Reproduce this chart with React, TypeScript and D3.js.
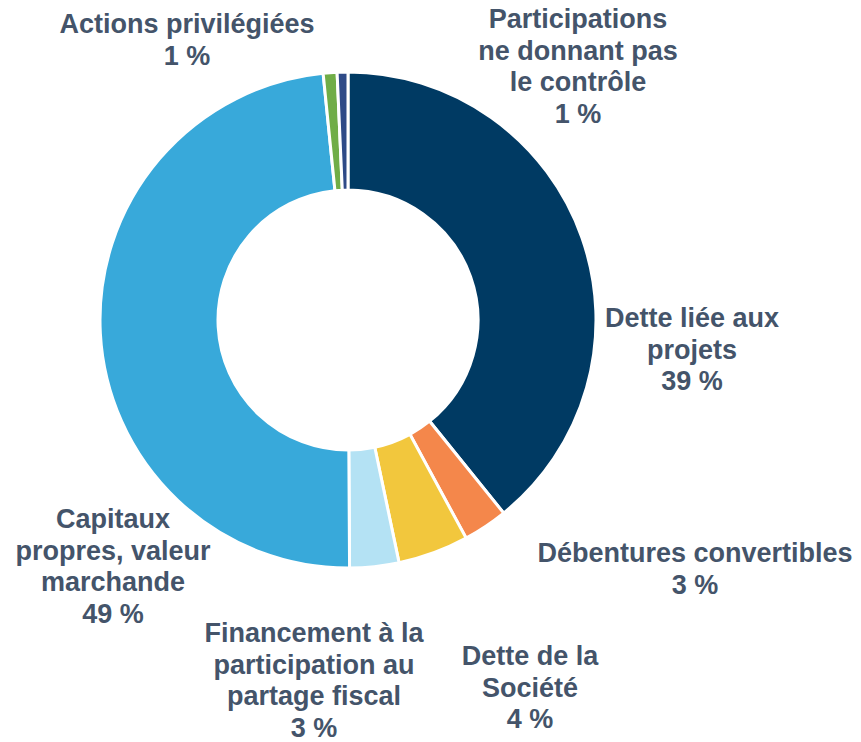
import React, { useRef, useEffect } from "react";
import * as d3 from "d3";

// slices, clockwise from 12 o'clock
const categories = [
  "Dette liée aux projets",
  "Débentures convertibles",
  "Dette de la Société",
  "Financement à la participation au partage fiscal",
  "Capitaux propres, valeur marchande",
  "Actions privilégiées",
  "Participations ne donnant pas le contrôle",
];
const values = [39.2, 2.9, 4.6, 3.2, 48.5, 0.9, 0.7];
const pctLabels = ["39 %", "3 %", "4 %", "3 %", "49 %", "1 %", "1 %"];
const colors = ["#003A63", "#F4874B", "#F2C73D", "#B4E2F4", "#38A9DA", "#70AD47", "#2E4A87"];

// label line breaks as in the original
const labelLines = [
  ["Dette liée aux", "projets"],
  ["Débentures convertibles"],
  ["Dette de la", "Société"],
  ["Financement à la", "participation au", "partage fiscal"],
  ["Capitaux", "propres, valeur", "marchande"],
  ["Actions privilégiées"],
  ["Participations", "ne donnant pas", "le contrôle"],
];

const App = () => {
  const ref = useRef<SVGSVGElement>(null);

  useEffect(() => {
    const svg = d3.select(ref.current);
    svg.selectAll("*").remove();

    const width = 861;
    const height = 742;
    const cx = 348;
    const cy = 320;
    const outerR = 248;
    const innerR = 130;

    svg.attr("width", width).attr("height", height);

    const data = categories.map((c, i) => ({ name: c, value: values[i], i }));
    const pie = d3
      .pie<any>()
      .sort(null)
      .value((d) => d.value);
    const arc = d3.arc<any>().innerRadius(innerR).outerRadius(outerR);

    const g = svg.append("g").attr("transform", `translate(${cx},${cy})`);
    g.selectAll("path")
      .data(pie(data))
      .enter()
      .append("path")
      .attr("d", arc)
      .attr("fill", (d) => colors[d.data.i])
      .attr("stroke", "#fff")
      .attr("stroke-width", 3);

    // label anchors: centre x, first baseline
    const labelPos = [
      [692, 327],
      [695, 562],
      [530, 665],
      [314, 642],
      [113, 528],
      [187, 33],
      [578, 28],
    ];
    const lh = 31.5;

    data.forEach((d) => {
      const [x, y] = labelPos[d.i];
      const lines = [...labelLines[d.i], pctLabels[d.i]];
      const t = svg
        .append("text")
        .attr("text-anchor", "middle")
        .attr("font-family", "'Liberation Sans', Arial, sans-serif")
        .attr("font-weight", "bold")
        .attr("font-size", 27)
        .attr("fill", "#44546A");
      lines.forEach((l, k) => {
        t.append("tspan").attr("x", x).attr("y", y + k * lh).text(l);
      });
    });
  }, []);

  return (
    <svg
      ref={ref}
      style={{ display: "block", position: "absolute", left: 0, top: 0 }}
    />
  );
};

export default App;
